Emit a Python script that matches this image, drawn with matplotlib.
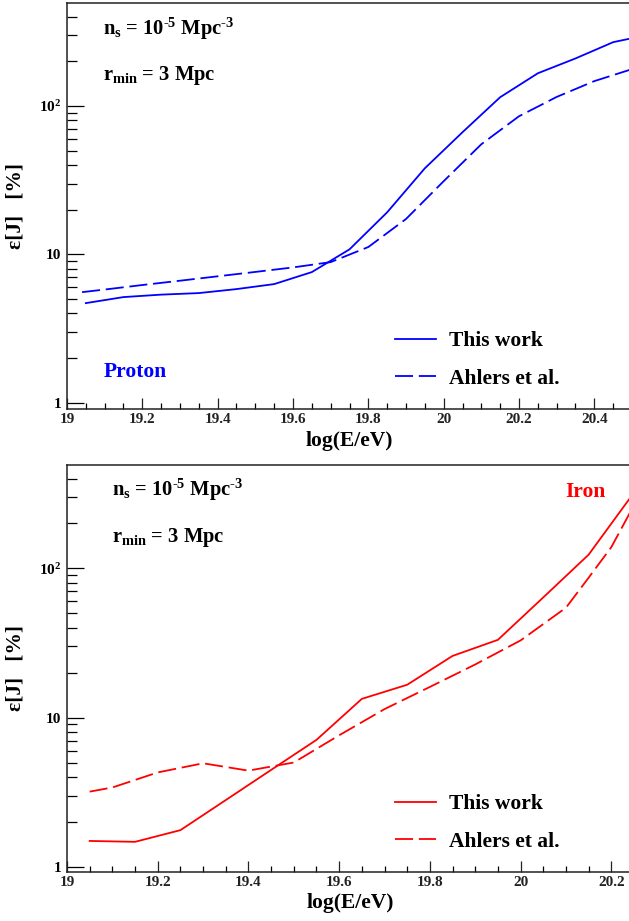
import numpy as np
import matplotlib
matplotlib.use("Agg")
import matplotlib.pyplot as plt
from matplotlib.ticker import MultipleLocator, LogLocator, NullFormatter, FixedLocator, FixedFormatter

plt.rcParams['font.family'] = ['Liberation Serif', 'DejaVu Serif']
plt.rcParams['font.weight'] = 'bold'
plt.rcParams['mathtext.fontset'] = 'custom'
plt.rcParams['mathtext.rm'] = 'Liberation Serif:bold'
plt.rcParams['mathtext.it'] = 'Liberation Serif:bold'
plt.rcParams['mathtext.bf'] = 'Liberation Serif:bold'

# Proton panel
p_this_x = [19.05, 19.15, 19.25, 19.35, 19.45, 19.55, 19.65, 19.75, 19.85,
            19.95, 20.05, 20.15, 20.25, 20.35, 20.45, 20.5]
p_this_y = [4.69, 5.15, 5.35, 5.48, 5.83, 6.30, 7.59, 10.8, 19.2,
            38.0, 66.5, 114.5, 166, 209, 269, 286]
p_ahl_x = [19.04, 19.1, 19.2, 19.3, 19.4, 19.5, 19.6, 19.7, 19.8,
           19.9, 20.0, 20.1, 20.2, 20.3, 20.4, 20.5]
p_ahl_y = [5.56, 5.79, 6.21, 6.64, 7.11, 7.61, 8.16, 8.86, 11.2,
           17.3, 31.1, 55.2, 85.2, 115, 147, 177]

# Iron panel
fe_this_x = [19.05, 19.15, 19.25, 19.35, 19.45, 19.55, 19.65, 19.75, 19.85,
             19.95, 20.05, 20.15, 20.25]
fe_this_y = [1.49, 1.47, 1.76, 2.80, 4.46, 7.09, 13.35, 16.6, 25.9,
             33.2, 63.9, 123.6, 322]
fe_ahl_x = [19.05, 19.1, 19.2, 19.3, 19.4, 19.5, 19.6, 19.7, 19.8,
            19.9, 20.0, 20.1, 20.15, 20.2, 20.25]
fe_ahl_y = [3.19, 3.40, 4.29, 4.94, 4.41, 5.00, 7.61, 11.4, 16.05,
            22.7, 32.9, 54.5, 86.6, 138.8, 265]

W, H = 629, 921
fig = plt.figure(figsize=(W / 100, H / 100), dpi=100)


def fx(x):
    return x / W


def fy(y):
    return 1 - y / H


def setup(ax, xlim, ylim):
    ax.set_yscale('log')
    ax.set_xlim(*xlim)
    ax.set_ylim(*ylim)
    ax.spines['right'].set_visible(False)
    for s in ['left', 'bottom', 'top']:
        ax.spines[s].set_linewidth(1.1)
        ax.spines[s].set_color('#222222')
    ax.xaxis.set_major_locator(MultipleLocator(0.2))
    ax.xaxis.set_minor_locator(MultipleLocator(0.05))
    ax.xaxis.set_major_formatter(plt.FuncFormatter(lambda v, p: f"{v:g}"))
    ax.yaxis.set_major_locator(FixedLocator([1, 10, 100]))
    ax.yaxis.set_major_formatter(FixedFormatter(['1', '10', r'$10^{2}$']))
    ax.yaxis.set_minor_locator(LogLocator(base=10, subs=np.arange(2, 10)))
    ax.yaxis.set_minor_formatter(NullFormatter())
    ax.tick_params(axis='x', which='major', direction='in', length=8, width=0.9,
                   labelsize=11, pad=3, top=False, colors='#222222')
    ax.tick_params(axis='x', which='minor', direction='in', length=4, width=0.9, top=False)
    ax.tick_params(axis='y', which='major', direction='in', length=12, width=0.9,
                   labelsize=11, pad=4, right=False)
    ax.tick_params(axis='y', which='minor', direction='in', length=7, width=0.9, right=False)
    for lab in ax.get_xticklabels() + ax.get_yticklabels():
        lab.set_fontweight('bold')
    ax.set_xlabel('log(E/eV)', fontsize=15.5, fontweight='bold')
    ax.set_ylabel('ε[J]   [%]', fontsize=15.5, fontweight='bold')
    ax.xaxis.set_label_coords(0.5, -0.053)
    ax.yaxis.set_label_coords(-0.073, 0.5)


dash = (0, (10, 3.2))
leg_kw = dict(frameon=False, fontsize=15.5, handlelength=1.9, handletextpad=0.6,
              labelspacing=0.82, borderpad=0, borderaxespad=0)

# top panel
ax1 = fig.add_axes([fx(67), fy(409), fx(632) - fx(67), fy(3) - fy(409)])
setup(ax1, (19, 20.5), (0.907, 494))
ax1.plot(p_this_x, p_this_y, color='#0000ff', lw=1.3, label='This work')
ax1.plot(p_ahl_x, p_ahl_y, color='#0000ff', lw=1.3, ls=dash, label='Ahlers et al.')
ax1.legend(loc='upper left', bbox_to_anchor=(fx(395), fy(331)), bbox_transform=fig.transFigure,
           **leg_kw)

# bottom panel
ax2 = fig.add_axes([fx(67), fy(871.5), fx(634) - fx(67), fy(465) - fy(871.5)])
setup(ax2, (19, 20.25), (0.93, 493))
ax2.plot(fe_this_x, fe_this_y, color='#ff0000', lw=1.3, label='This work')
ax2.plot(fe_ahl_x, fe_ahl_y, color='#ff0000', lw=1.3, ls=dash, label='Ahlers et al.')
ax2.legend(loc='upper left', bbox_to_anchor=(fx(395), fy(794)), bbox_transform=fig.transFigure,
           **leg_kw)

# annotations
ns = r'$n_{s}$ = 10$^{\text{-5}}$ Mpc$^{\text{-3}}$'
rm = r'r$_{min}$ = 3 Mpc'
fig.text(fx(103), fy(35), ns, fontsize=14.8, fontweight='bold', va='baseline')
fig.text(fx(103), fy(80), rm, fontsize=14.8, fontweight='bold', va='baseline')
fig.text(fx(112), fy(496), ns, fontsize=14.8, fontweight='bold', va='baseline')
fig.text(fx(112), fy(542), rm, fontsize=14.8, fontweight='bold', va='baseline')
fig.text(fx(104), fy(377), 'Proton', fontsize=15.5, fontweight='bold', color='#0000ff', va='baseline')
fig.text(fx(565), fy(497), 'Iron', fontsize=15.5, fontweight='bold', color='#ff0000', va='baseline')

fig.savefig('out.png', dpi=100)
